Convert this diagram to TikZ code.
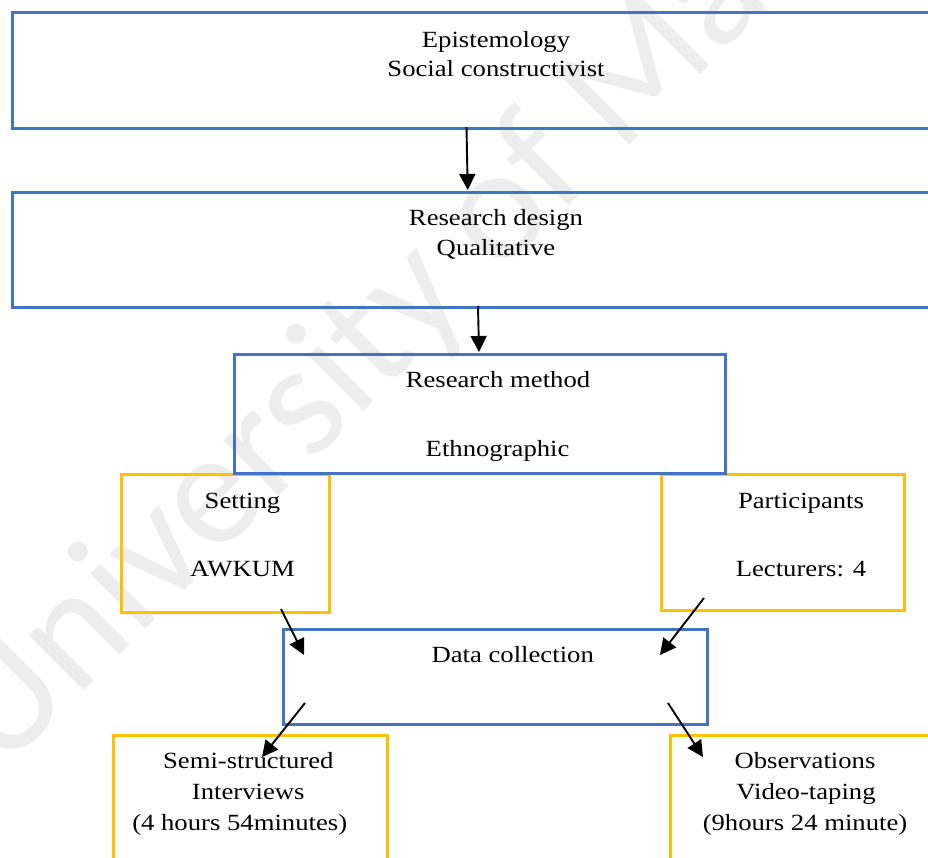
\documentclass[tikz,border=0pt]{standalone}
\usepackage{fontspec}
\setmainfont{Liberation Serif}[FakeStretch=1.15]
\newfontfamily\wmfont{Carlito}
\usetikzlibrary{arrows.meta}
\definecolor{boxblue}{HTML}{4472C4}
\definecolor{boxgold}{HTML}{FFC000}
\begin{document}
\begin{tikzpicture}[x=1pt,y=-1pt,
  bluebox/.style={draw=boxblue, line width=2.5pt, inner sep=0pt, anchor=north west},
  goldbox/.style={draw=boxgold, line width=2.5pt, inner sep=0pt, anchor=north west},
  lbl/.style={font=\fontsize{23.2}{28}\selectfont, inner sep=0pt, anchor=base},
  arr/.style={-{Triangle[length=16pt,width=16pt]}, line width=1.9pt, black},
  wmark/.style={font=\wmfont\fontsize{163}{163}\selectfont, text=black!7, inner sep=0pt, anchor=base west, rotate=45}]
\useasboundingbox (0,0) rectangle (928,857);
\clip (0,0) rectangle (928,857);
\fill[white] (0,0) rectangle (928,857);
% watermark
\node[wmark] (wm) at (2.4,772.6) {University of Malaya};
% yellow boxes
\node[goldbox, minimum width=208pt, minimum height=138pt] (set) at (120,473) {};
\node[goldbox, minimum width=243pt, minimum height=136pt] (part) at (660,473) {};
\node[goldbox, minimum width=274pt, minimum height=200pt] (semi) at (112,734) {};
\node[goldbox, minimum width=400pt, minimum height=200pt] (obs) at (669,734) {};
% blue boxes
\node[bluebox, minimum width=979pt, minimum height=116pt] (epi) at (11,11) {};
\node[bluebox, minimum width=979pt, minimum height=115pt] (des) at (11,191) {};
\node[bluebox, minimum width=491pt, minimum height=119pt] (meth) at (233,353) {};
\node[bluebox, minimum width=424pt, minimum height=95pt] (data) at (282,628) {};
% texts
\node[lbl] (epi1) at (496,47) {Epistemology};
\node[lbl] (epi2) at (496,76) {Social constructivist};
\node[lbl] (des1) at (496,225.5) {Research design};
\node[lbl] (des2) at (496,255.5) {Qualitative};
\node[lbl] (meth1) at (498,387.5) {Research method};
\node[lbl] (meth2) at (497.6,456) {Ethnographic};
\node[lbl] (set1) at (242.5,508.3) {Setting};
\node[lbl] (set2) at (242.5,576.7) {AWKUM};
\node[lbl] (part1) at (801,508.3) {Participants};
\node[lbl] (part2) at (801,576.7) {Lecturers: 4};
\node[lbl] (data1) at (512.7,662.7) {Data collection};
\node[lbl] (semi1) at (248.3,768.3) {Semi-structured};
\node[lbl] (semi2) at (248.3,799.3) {Interviews};
\node[lbl] (semi3) at (239.7,830) {(4 hours 54minutes)};
\node[lbl] (obs1) at (805,768.3) {Observations};
\node[lbl] (obs2) at (806,799.3) {Video-taping};
\node[lbl] (obs3) at (805,830) {(9hours 24 minute)};
% connector end points
\coordinate (a1s) at (466.5,127);
\coordinate (a1e) at (467.7,190);
\coordinate (a2s) at (478,306);
\coordinate (a2e) at (479,352);
\coordinate (a3s) at (281,609);
\coordinate (a3e) at (304,655);
\coordinate (a4s) at (704,598);
\coordinate (a4e) at (660,655);
\coordinate (a5s) at (305,703);
\coordinate (a5e) at (262,757);
\coordinate (a6s) at (668,703);
\coordinate (a6e) at (703,757);
\draw[arr] (a1s) -- (a1e);
\draw[arr] (a2s) -- (a2e);
\draw[arr] (a3s) -- (a3e);
\draw[arr] (a4s) -- (a4e);
\draw[arr] (a5s) -- (a5e);
\draw[arr] (a6s) -- (a6e);
\end{tikzpicture}
\end{document}
